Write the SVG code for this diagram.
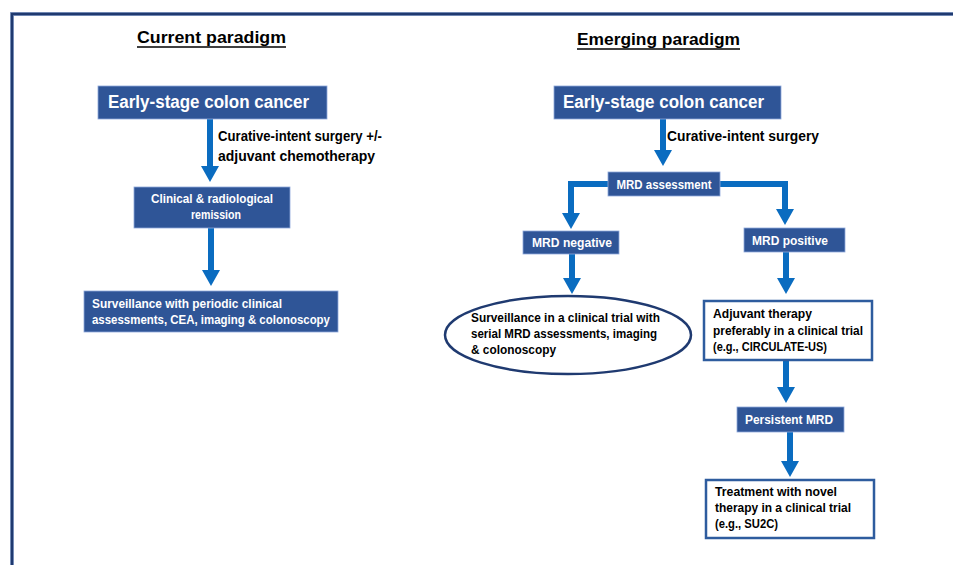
<svg xmlns="http://www.w3.org/2000/svg" width="953" height="565" viewBox="0 0 953 565">
<defs>
<style>
.t{font-family:"Liberation Sans",Arial,sans-serif;font-weight:bold}
.title{font-size:17px;fill:#000}
.big{font-size:18px;fill:#fff}
.sm{font-size:13px;fill:#fff}
.lbl{font-size:14.5px;fill:#000}
.bk{font-size:13px;fill:#000}
.box{fill:#2F5597;stroke:#8EA9DB;stroke-width:0.8}
.obox{fill:#fff;stroke:#2E5C9E;stroke-width:2.5}
.arr{fill:none;stroke:#0A6CC0;stroke-width:6;marker-end:url(#ah)}
</style>
<marker id="ah" markerUnits="userSpaceOnUse" markerWidth="20" markerHeight="18" refX="0" refY="9" orient="auto" viewBox="0 0 20 18">
<path d="M0,0 L16,9 L0,18 Z" fill="#0A6CC0"/>
</marker>
</defs>
<rect width="953" height="565" fill="#fff"/>
<path d="M12,566 V14 H954" fill="none" stroke="#8DA2C8" stroke-width="4"/>
<path d="M12,566 V14 H954" fill="none" stroke="#1F3A70" stroke-width="2.4"/>

<g id="titles">
<text class="t title" x="137" y="43" textLength="149" lengthAdjust="spacingAndGlyphs">Current paradigm</text>
<line x1="137" y1="47" x2="286" y2="47" stroke="#000" stroke-width="1.5"/>
<text class="t title" x="577" y="45" textLength="163" lengthAdjust="spacingAndGlyphs">Emerging paradigm</text>
<line x1="577" y1="49" x2="740" y2="49" stroke="#000" stroke-width="1.5"/>
</g>

<g id="connectors">
<path class="arr" d="M210,119 V166"/>
<path class="arr" d="M211,228 V270"/>
<path class="arr" d="M663,119 V150"/>
<path class="arr" d="M608,184 H571 V213"/>
<path class="arr" d="M720,184 H785 V209"/>
<path class="arr" d="M572,254 V278"/>
<path class="arr" d="M786,252 V278"/>
<path class="arr" d="M786,360 V387"/>
<path class="arr" d="M790,432 V461"/>
<text class="t lbl" x="218" y="141" textLength="164" lengthAdjust="spacingAndGlyphs">Curative-intent surgery +/-</text>
<text class="t lbl" x="218" y="161" textLength="157" lengthAdjust="spacingAndGlyphs">adjuvant chemotherapy</text>
<text class="t lbl" x="667" y="141" textLength="152" lengthAdjust="spacingAndGlyphs">Curative-intent surgery</text>
</g>

<g id="left-early">
<rect class="box" x="98" y="86" width="229" height="33"/>
<text class="t big" x="108" y="108" textLength="201" lengthAdjust="spacingAndGlyphs">Early-stage colon cancer</text>
</g>
<g id="left-remission">
<rect class="box" x="134" y="187" width="156" height="41"/>
<text class="t sm" x="212" y="203" text-anchor="middle" textLength="122" lengthAdjust="spacingAndGlyphs">Clinical &amp; radiological</text>
<text class="t sm" x="216" y="219" text-anchor="middle" textLength="50" lengthAdjust="spacingAndGlyphs">remission</text>
</g>
<g id="left-surveillance">
<rect class="box" x="84" y="291" width="254" height="41"/>
<text class="t sm" x="92" y="308" textLength="190" lengthAdjust="spacingAndGlyphs">Surveillance with periodic clinical</text>
<text class="t sm" x="92" y="324" textLength="238" lengthAdjust="spacingAndGlyphs">assessments, CEA, imaging &amp; colonoscopy</text>
</g>

<g id="right-early">
<rect class="box" x="554" y="86" width="227" height="33"/>
<text class="t big" x="563" y="108" textLength="201" lengthAdjust="spacingAndGlyphs">Early-stage colon cancer</text>
</g>
<g id="mrd-assessment">
<rect class="box" x="608" y="172" width="112" height="24"/>
<text class="t sm" x="664" y="189" text-anchor="middle" textLength="95" lengthAdjust="spacingAndGlyphs">MRD assessment</text>
</g>
<g id="mrd-negative">
<rect class="box" x="523" y="231" width="96" height="23"/>
<text class="t sm" x="572" y="247" text-anchor="middle" textLength="80" lengthAdjust="spacingAndGlyphs">MRD negative</text>
</g>
<g id="mrd-positive">
<rect class="box" x="744" y="228" width="101" height="24"/>
<text class="t sm" x="790" y="245" text-anchor="middle" textLength="76" lengthAdjust="spacingAndGlyphs">MRD positive</text>
</g>
<g id="surveillance-trial">
<ellipse cx="568" cy="335" rx="123" ry="39" fill="#fff" stroke="#1F3A70" stroke-width="2.5"/>
<text class="t bk" x="471" y="322" textLength="189" lengthAdjust="spacingAndGlyphs">Surveillance in a clinical trial with</text>
<text class="t bk" x="471" y="338" textLength="186" lengthAdjust="spacingAndGlyphs">serial MRD assessments, imaging</text>
<text class="t bk" x="471" y="354" textLength="85" lengthAdjust="spacingAndGlyphs">&amp; colonoscopy</text>
</g>
<g id="adjuvant">
<rect class="obox" x="704" y="301" width="168" height="59"/>
<text class="t bk" x="713" y="318" textLength="99" lengthAdjust="spacingAndGlyphs">Adjuvant therapy</text>
<text class="t bk" x="713" y="335" textLength="150" lengthAdjust="spacingAndGlyphs">preferably in a clinical trial</text>
<text class="t bk" x="713" y="351" textLength="114" lengthAdjust="spacingAndGlyphs">(e.g., CIRCULATE-US)</text>
</g>
<g id="persistent-mrd">
<rect class="box" x="737" y="407" width="107" height="25"/>
<text class="t sm" x="789" y="424" text-anchor="middle" textLength="88" lengthAdjust="spacingAndGlyphs">Persistent MRD</text>
</g>
<g id="novel-therapy">
<rect class="obox" x="706" y="480" width="168" height="58"/>
<text class="t bk" x="715" y="496" textLength="122" lengthAdjust="spacingAndGlyphs">Treatment with novel</text>
<text class="t bk" x="715" y="512" textLength="136" lengthAdjust="spacingAndGlyphs">therapy in a clinical trial</text>
<text class="t bk" x="715" y="528" textLength="63" lengthAdjust="spacingAndGlyphs">(e.g., SU2C)</text>
</g>
</svg>
